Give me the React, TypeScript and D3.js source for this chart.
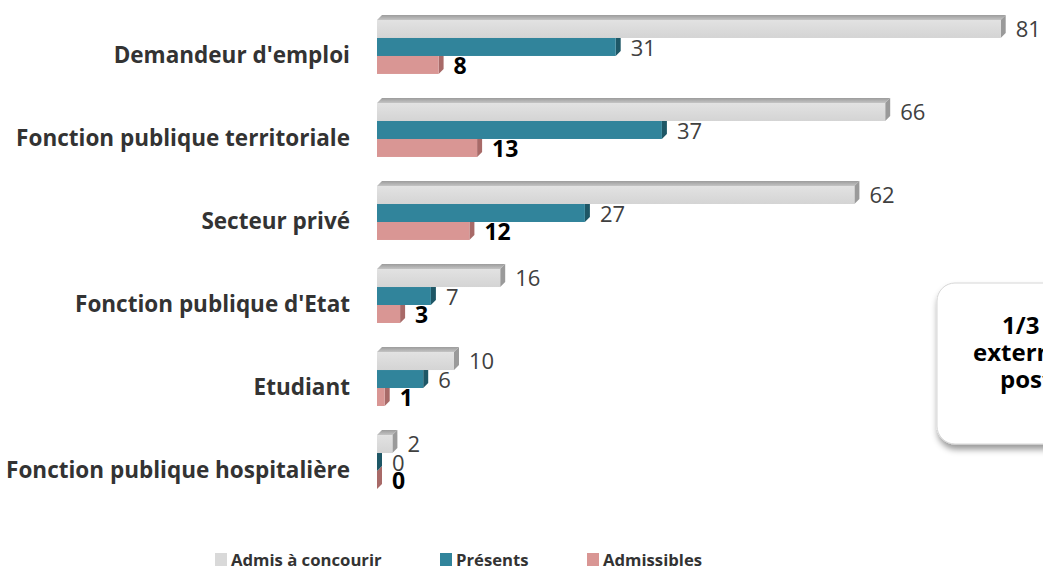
import * as d3 from "d3";

const categories = [
  "Demandeur d'emploi",
  "Fonction publique territoriale",
  "Secteur privé",
  "Fonction publique d'Etat",
  "Etudiant",
  "Fonction publique hospitalière",
];

const seriesNames = ["Admis à concourir", "Présents", "Admissibles"];

const admis = [81, 66, 62, 16, 10, 2];
const presents = [31, 37, 27, 7, 6, 0];
const admissibles = [8, 13, 12, 3, 1, 0];

const calloutLines = ["1/3 des", "externes en", "poste"];

type Face = { front: string; side: string; top: string };

const faces: Face[] = [
  { front: "#d9d9d9", side: "#9a9a9a", top: "#b3b3b3" },
  { front: "#31849b", side: "#1e5766", top: "#25687a" },
  { front: "#d99694", side: "#a86a68", top: "#bf7f7d" },
];

const labelStyle = [
  { weight: 400, color: "#404040", size: 22 },
  { weight: 400, color: "#404040", size: 22 },
  { weight: 700, color: "#000000", size: 23 },
];

export default function App() {
  const width = 1043;
  const height = 570;
  const font = "'Open Sans', sans-serif";
  const depth = { dx: 5, dy: 5 };

  const values = [admis, presents, admissibles];

  const x = d3.scaleLinear().domain([0, 90]).range([377, 1070]);

  const y = d3
    .scaleBand<string>()
    .domain(categories)
    .range([20, 489])
    .paddingInner(0.35)
    .paddingOuter(0);

  const ySeries = d3
    .scaleBand<number>()
    .domain([0, 1, 2])
    .range([0, y.bandwidth()]);

  const legendX = d3.scaleOrdinal<number, number>().domain([0, 1, 2]).range([215, 440, 587]);

  return (
    <svg
      width={width}
      height={height}
      style={{ position: "absolute", left: 0, top: 0, background: "#fff" }}
      fontFamily={font}
    >
      <defs>
        <filter id="shadow" x="-20%" y="-20%" width="140%" height="150%">
          <feDropShadow dx="1" dy="5" stdDeviation="3" floodColor="#000" floodOpacity="0.4" />
        </filter>
        <linearGradient id="greyFront" x1="0" y1="0" x2="0" y2="1">
          <stop offset="0" stopColor="#e2e2e2" />
          <stop offset="1" stopColor="#d4d4d4" />
        </linearGradient>
        <linearGradient id="greyTop" x1="0" y1="0" x2="0" y2="1">
          <stop offset="0" stopColor="#9c9c9c" />
          <stop offset="1" stopColor="#c4c4c4" />
        </linearGradient>
      </defs>

      {categories.map((cat, i) => {
        const g0 = y(cat) ?? 0;
        return (
          <g key={cat}>
            {[2, 1, 0].map((s) => {
              const v = values[s][i];
              const y0 = g0 + (ySeries(s) ?? 0);
              const h = ySeries.bandwidth();
              const x0 = x(0);
              const x1 = x(v);
              const f = faces[s];
              const side = `M${x1},${y0} L${x1 + depth.dx},${y0 - depth.dy} L${x1 + depth.dx},${y0 + h - depth.dy} L${x1},${y0 + h} Z`;
              const top = `M${x0},${y0} L${x0 + depth.dx},${y0 - depth.dy} L${x1 + depth.dx},${y0 - depth.dy} L${x1},${y0} Z`;
              return (
                <g key={s}>
                  <path d={top} fill={s === 0 ? "url(#greyTop)" : f.top} />
                  <path d={side} fill={f.side} />
                  <rect
                    x={x0}
                    y={y0}
                    width={Math.max(0, x1 - x0)}
                    height={h}
                    fill={s === 0 ? "url(#greyFront)" : f.front}
                  />
                </g>
              );
            })}
            {[0, 1, 2].map((s) => {
              const v = values[s][i];
              const y0 = g0 + (ySeries(s) ?? 0);
              const h = ySeries.bandwidth();
              return (
                <text
                  key={`l${s}`}
                  x={x(v) + 15}
                  y={y0 + h / 2 + (s === 0 ? 0 : 1)}
                  dy="0.36em"
                  fontSize={labelStyle[s].size}
                  fontWeight={labelStyle[s].weight}
                  fill={labelStyle[s].color}
                >
                  {v}
                </text>
              );
            })}
            <text
              x={350}
              y={g0 + y.bandwidth() / 2 + 8}
              dy="0.35em"
              textAnchor="end"
              fontSize={22.5}
              fontWeight={700}
              fill="#333"
              textLength={undefined}
            >
              {cat}
            </text>
          </g>
        );
      })}

      <g>
        <rect
          x={937}
          y={283}
          width={220}
          height={161}
          rx={18}
          fill="#fff"
          stroke="#d6d6d6"
          strokeWidth={1}
          filter="url(#shadow)"
        />
        {calloutLines.map((line, i) => (
          <text
            key={line}
            x={[1002, 973, 1000][i]}
            y={334 + i * 27}
            fontSize={24}
            fontWeight={700}
            fill="#000"
          >
            {line}
          </text>
        ))}
      </g>

      <g>
        {seriesNames.map((name, s) => (
          <g key={name} transform={`translate(${legendX(s)},0)`}>
            <rect x={0} y={553} width={12} height={13} fill={faces[s].front} />
            <text x={16} y={566} fontSize={16.7} fontWeight={700} fill="#333">
              {name}
            </text>
          </g>
        ))}
      </g>
    </svg>
  );
}
